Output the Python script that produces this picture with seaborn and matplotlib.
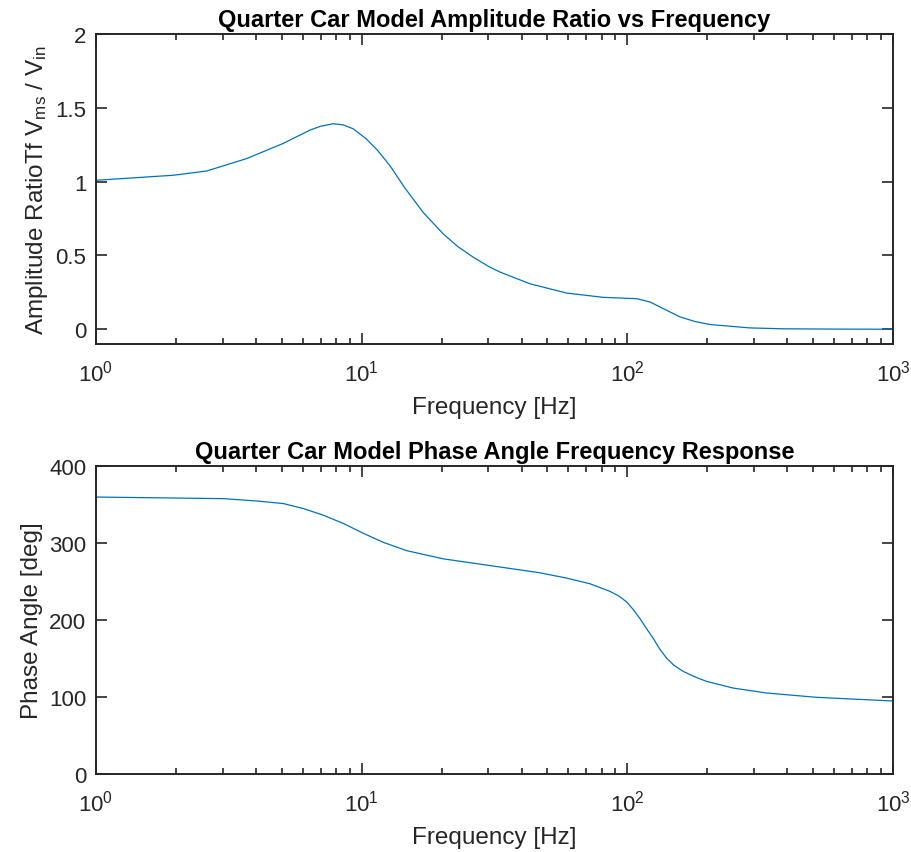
import numpy as np
import pandas as pd
import matplotlib
matplotlib.use("Agg")
import matplotlib.pyplot as plt
import seaborn as sns

# Amplitude ratio data
amp_freq = [1.0, 1.95, 2.61, 3.69, 5.07, 6.39, 7.0, 7.81, 8.5, 9.29, 10.4, 11.5, 12.8,
            14.5, 17.06, 20.3, 23.0, 26.3, 30.4, 33.2, 43.0, 59.1, 81.2, 108.4, 121.6,
            140.0, 157.8, 180.0, 204.7, 289.0, 385.0, 600.0, 1000.0]
amp_ratio = [1.009, 1.043, 1.072, 1.156, 1.259, 1.349, 1.375, 1.392, 1.385, 1.358, 1.29,
             1.21, 1.106, 0.96, 0.79, 0.645, 0.56, 0.488, 0.42, 0.387, 0.308, 0.245,
             0.216, 0.207, 0.185, 0.13, 0.0836, 0.052, 0.032, 0.009, 0.003, 0.001, 0.0]

# Phase angle data
ph_freq = [1.0, 3.01, 4.02, 5.07, 6.03, 7.17, 8.53, 10.1, 12.05, 14.75, 20.3, 30.4,
           46.9, 59.1, 72.3, 86.0, 93.0, 99.4, 105.0, 111.5, 118.0, 125.2, 132.0, 140.6,
           150.0, 162.4, 180.0, 198.7, 250.4, 334.0, 515.0, 1000.0]
ph_angle = [359.7, 357.6, 354.6, 351.2, 344.8, 336.1, 325.4, 312.9, 300.9, 290.1,
            279.4, 270.7, 261.3, 254.4, 247.1, 237.2, 231.0, 223.5, 214.0, 201.9, 189.0,
            176.1, 163.0, 150.3, 141.0, 133.2, 126.0, 120.3, 111.6, 105.2, 99.6, 94.8]

amp_df = pd.DataFrame({"f": amp_freq, "a": amp_ratio})
ph_df = pd.DataFrame({"f": ph_freq, "p": ph_angle})

sns.set_style("ticks")
plt.rcParams["font.family"] = ["Liberation Sans", "DejaVu Sans"]
plt.rcParams["mathtext.fontset"] = "custom"
plt.rcParams["mathtext.rm"] = "Liberation Sans"
plt.rcParams["mathtext.it"] = "Liberation Sans:italic"
plt.rcParams["mathtext.bf"] = "Liberation Sans:bold"
plt.rcParams["mathtext.default"] = "regular"

dark = "#262626"
blue = "#0072BD"

fig = plt.figure(figsize=(9.12, 8.53), dpi=100)
ax1 = fig.add_axes([96/912, 1-345/853, (893-96)/912, (345-35)/853])
ax2 = fig.add_axes([96/912, 1-775/853, (893-96)/912, (775-467)/853])

sns.lineplot(data=amp_df, x="f", y="a", ax=ax1, color=blue, linewidth=0.9)
sns.lineplot(data=ph_df, x="f", y="p", ax=ax2, color=blue, linewidth=0.9)

for ax in (ax1, ax2):
    ax.set_xscale("log")
    ax.set_xlim(1, 1000)
    for sp in ax.spines.values():
        sp.set_visible(True)
        sp.set_color(dark)
        sp.set_linewidth(1.4)
    ax.tick_params(which="both", direction="in", top=True, right=True,
                   colors=dark, labelsize=16, width=1.2)
    ax.tick_params(which="major", length=8)
    ax.tick_params(which="minor", length=4)
    ax.tick_params(axis="x", which="major", pad=11)
    ax.tick_params(axis="y", which="major", pad=7)
    ax.set_xlabel("Frequency [Hz]", fontsize=17.5, color=dark, labelpad=8)

ax1.set_ylim(-0.1, 2)
ax1.set_yticks([0, 0.5, 1, 1.5, 2])
ax1.set_yticklabels(["0", "0.5", "1", "1.5", "2"])
ax1.set_ylabel(r"Amplitude RatioTf V$_{\mathrm{ms}}$ / V$_{\mathrm{in}}$",
               fontsize=17.5, color=dark, labelpad=4)
ax1.set_title("Quarter Car Model Amplitude Ratio vs Frequency",
              fontsize=17, fontweight="bold", color="black", pad=6)

ax2.set_ylim(0, 400)
ax2.set_yticks([0, 100, 200, 300, 400])
ax2.set_ylabel("Phase Angle [deg]", fontsize=17.5, color=dark, labelpad=4)
ax2.set_title("Quarter Car Model Phase Angle Frequency Response",
              fontsize=17, fontweight="bold", color="black", pad=6)

fig.savefig("out.png", dpi=100, facecolor="white")
